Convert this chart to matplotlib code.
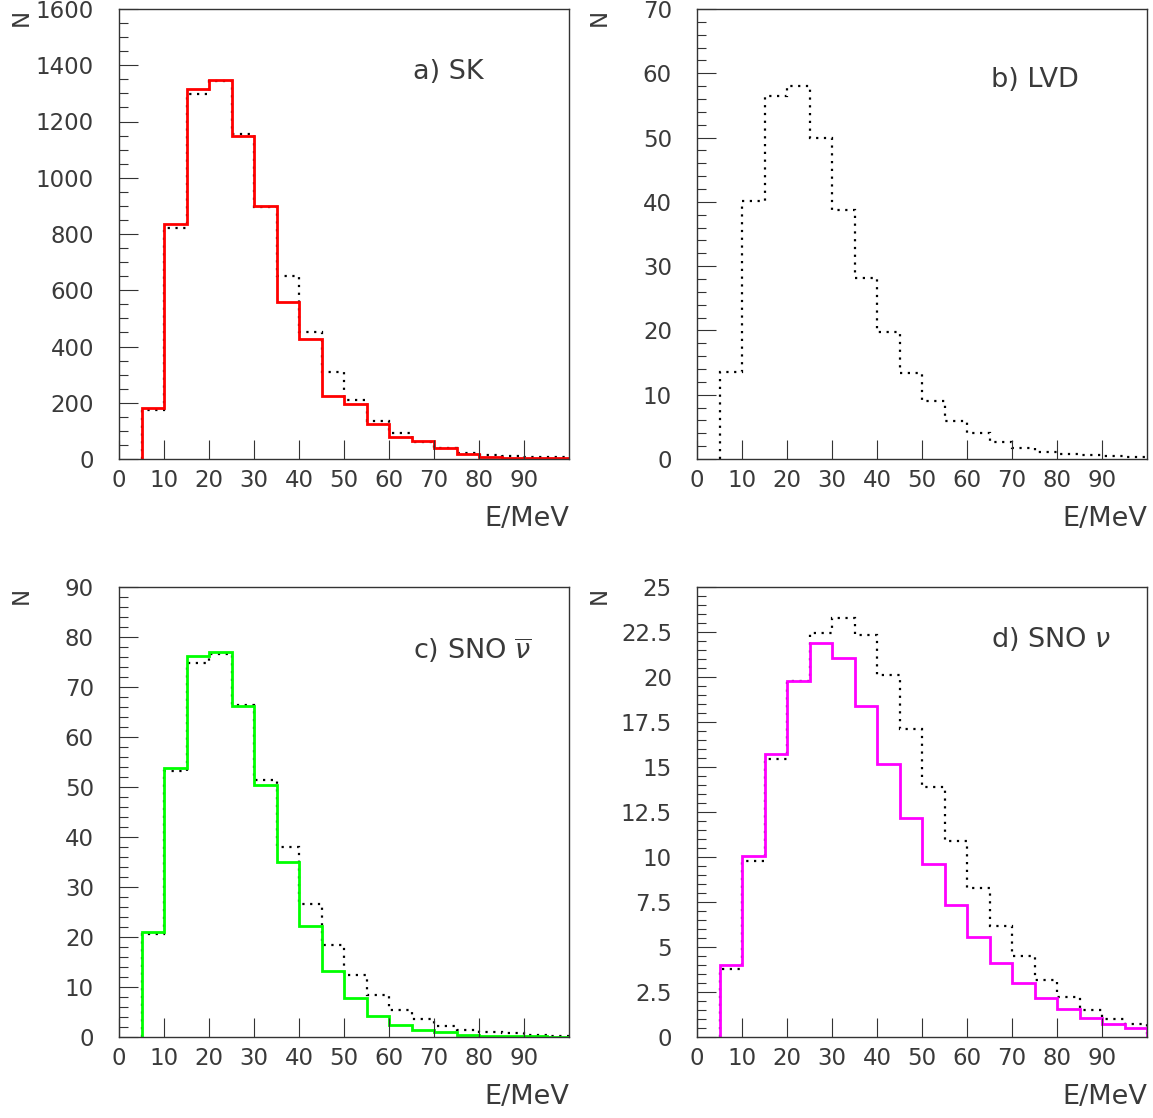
import numpy as np
import matplotlib
matplotlib.use("Agg")
import matplotlib.pyplot as plt
from matplotlib.ticker import MultipleLocator, FormatStrFormatter

plt.rcParams['font.family'] = ['DejaVu Sans']
plt.rcParams['mathtext.fontset'] = 'dejavusans'

# 5 MeV energy bins from 5 to 100 MeV
edges = [5, 10, 15, 20, 25, 30, 35, 40, 45, 50, 55, 60, 65, 70, 75, 80, 85, 90, 95, 100]
xticks = [0, 10, 20, 30, 40, 50, 60, 70, 80, 90]

# a) SK
sk_osc = [182, 835, 1315, 1346, 1149, 901, 559, 427, 223, 197, 123, 79, 64, 40, 17, 6, 3, 2, 2]
sk_ref = [174, 820, 1297, 1343, 1155, 895, 651, 453, 311, 210, 136, 91, 59, 40, 22, 13, 10, 7, 6]

# b) LVD
lvd_ref = [13.5, 40.1, 56.5, 58.1, 50.0, 38.7, 28.1, 19.7, 13.4, 9.1, 5.9, 4.0, 2.6, 1.7, 1.1, 0.8, 0.6, 0.4, 0.3]

# c) SNO anti-neutrino
snob_osc = [21.1, 53.8, 76.2, 77.0, 66.2, 50.5, 35.0, 22.3, 13.3, 7.8, 4.3, 2.5, 1.5, 1.0, 0.5, 0.3, 0.2, 0.13, 0.07]
snob_ref = [20.7, 53.3, 74.8, 76.7, 66.5, 51.5, 38.0, 26.7, 18.5, 12.5, 8.5, 5.5, 3.7, 2.3, 1.5, 1.0, 0.8, 0.5, 0.3]

# d) SNO neutrino
sno_osc = [3.98, 10.06, 15.7, 19.8, 21.9, 21.06, 18.37, 15.19, 12.19, 9.59, 7.35, 5.56, 4.13, 2.98, 2.17, 1.54, 1.06, 0.74, 0.5]
sno_ref = [3.78, 9.78, 15.46, 19.8, 22.46, 23.3, 22.35, 20.09, 17.09, 13.9, 10.89, 8.3, 6.15, 4.48, 3.15, 2.22, 1.52, 1.02, 0.7]

panels = [
    # label, ref, osc, colour, ymax, major, minor, position, label y
    ("a) SK", sk_ref, sk_osc, "#ff0000", 1600, 200, 50, [119, 9], 0.86),
    ("b) LVD", lvd_ref, None, None, 70, 10, 2, [697, 9], 0.842),
    (r"c) SNO $\overline{\nu}$", snob_ref, snob_osc, "#00ff00", 90, 10, 2, [119, 587], 0.86),
    (r"d) SNO $\nu$", sno_ref, sno_osc, "#ff00ff", 25, 2.5, 0.5, [697, 587], 0.884),
]

W, H = 1153, 1118
fig = plt.figure(figsize=(W / 100, H / 100), dpi=100)
fs = 16.5      # tick labels
fs_txt = 19.5  # panel labels and axis titles
axcol = "#333333"
txtcol = "#3a3a3a"

for title, ref, osc, col, ymax, major, minor, (px, py), ty in panels:
    ax = fig.add_axes([px / W, 1 - (py + 450) / H, 450 / W, 450 / H])
    ax.stairs(ref, edges, baseline=0, color="black", lw=1.6, ls=(0, (1, 2.5)))
    if osc is not None:
        ax.stairs(osc, edges, baseline=0, color=col, lw=2.0)
    ax.set_xlim(0, 100)
    ax.set_ylim(0, ymax)
    ax.set_xticks(xticks)
    ax.xaxis.set_major_formatter(FormatStrFormatter('%d'))
    ax.yaxis.set_major_locator(MultipleLocator(major))
    ax.yaxis.set_minor_locator(MultipleLocator(minor))
    ax.yaxis.set_major_formatter(FormatStrFormatter('%g'))
    ax.tick_params(axis='both', which='major', direction='in', length=13.5, width=0.8,
                   color=axcol, labelsize=fs, labelcolor=txtcol)
    ax.tick_params(axis='y', which='major', pad=18)
    ax.tick_params(axis='x', which='major', pad=7)
    ax.tick_params(axis='y', which='minor', direction='in', length=6.5, width=0.8, color=axcol)
    for s in ax.spines.values():
        s.set_color(axcol)
        s.set_linewidth(1.0)
    ax.text(65.3, ty, title, transform=ax.get_xaxis_transform(), ha='left', va='center',
            fontsize=fs_txt, color=txtcol)
    ax.text(1.0, -0.134, "E/MeV", transform=ax.transAxes, ha='right', va='center',
            fontsize=fs_txt, color=txtcol)
    ax.text(-0.218, 0.982, "N", transform=ax.transAxes, ha='center', va='center',
            rotation=90, fontsize=fs, color=txtcol)

fig.savefig("out.png", dpi=100)
